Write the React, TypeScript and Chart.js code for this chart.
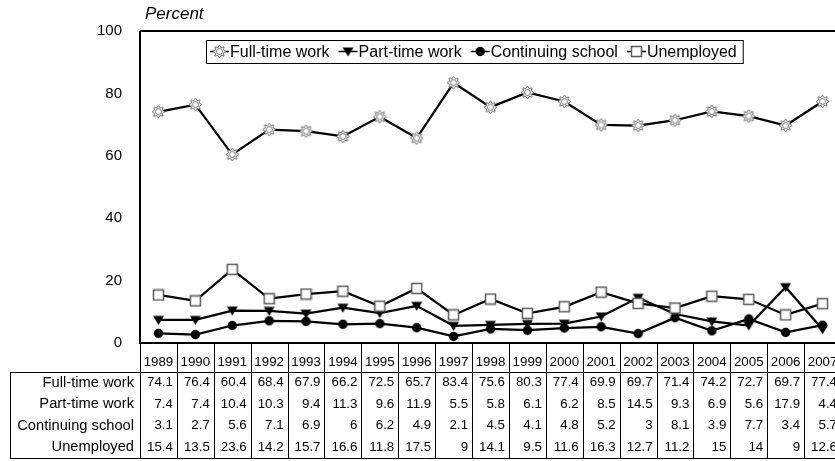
import React, { useEffect, useRef } from 'react';
import { Chart, registerables } from 'chart.js';

Chart.register(...registerables);

const years = ['1989', '1990', '1991', '1992', '1993', '1994', '1995', '1996', '1997', '1998', '1999', '2000', '2001', '2002', '2003', '2004', '2005', '2006', '2007'];
const fullTime = [74.1, 76.4, 60.4, 68.4, 67.9, 66.2, 72.5, 65.7, 83.4, 75.6, 80.3, 77.4, 69.9, 69.7, 71.4, 74.2, 72.7, 69.7, 77.4];
const partTime = [7.4, 7.4, 10.4, 10.3, 9.4, 11.3, 9.6, 11.9, 5.5, 5.8, 6.1, 6.2, 8.5, 14.5, 9.3, 6.9, 5.6, 17.9, 4.4];
const continuing = [3.1, 2.7, 5.6, 7.1, 6.9, 6, 6.2, 4.9, 2.1, 4.5, 4.1, 4.8, 5.2, 3, 8.1, 3.9, 7.7, 3.4, 5.7];
const unemployed = [15.4, 13.5, 23.6, 14.2, 15.7, 16.6, 11.8, 17.5, 9, 14.1, 9.5, 11.6, 16.3, 12.7, 11.2, 15, 14, 9, 12.6];
const seriesLabels = ['Full-time work', 'Part-time work', 'Continuing school', 'Unemployed'];
const yAxisTitle = 'Percent';

function makeCanvas(size: number, draw: (ctx: CanvasRenderingContext2D, c: number) => void) {
  const cv = document.createElement('canvas');
  cv.width = size;
  cv.height = size;
  const ctx = cv.getContext('2d')!;
  draw(ctx, size / 2);
  return cv;
}

function makeMarkers() {
  const sun = makeCanvas(15, (ctx, c) => {
    ctx.strokeStyle = '#707070';
    ctx.lineWidth = 1;
    ctx.fillStyle = '#fff';
    ctx.beginPath();
    const n = 8;
    for (let i = 0; i < n * 2; i++) {
      const a = (i * Math.PI) / n - Math.PI / 2;
      const r = i % 2 === 0 ? 6.5 : 4.2;
      const x = c + r * Math.cos(a);
      const y = c + r * Math.sin(a);
      if (i === 0) ctx.moveTo(x, y);
      else ctx.lineTo(x, y);
    }
    ctx.closePath();
    ctx.fill();
    ctx.stroke();
    ctx.beginPath();
    ctx.arc(c, c, 3, 0, Math.PI * 2);
    ctx.stroke();
  });
  const tri = makeCanvas(13, (ctx, c) => {
    ctx.fillStyle = '#000';
    ctx.beginPath();
    ctx.moveTo(1, 2.5);
    ctx.lineTo(12, 2.5);
    ctx.lineTo(c, 11.5);
    ctx.closePath();
    ctx.fill();
  });
  const dot = makeCanvas(11, (ctx, c) => {
    ctx.fillStyle = '#000';
    ctx.beginPath();
    ctx.arc(c, c, 4.7, 0, Math.PI * 2);
    ctx.fill();
  });
  const sq = makeCanvas(13, (ctx) => {
    ctx.fillStyle = '#fff';
    ctx.strokeStyle = '#5a5a5a';
    ctx.lineWidth = 1.5;
    ctx.fillRect(1.5, 1.5, 10, 10);
    ctx.strokeRect(1.5, 1.5, 10, 10);
  });
  return [sun, tri, dot, sq];
}

export default function App() {
  const ref = useRef<HTMLCanvasElement | null>(null);

  useEffect(() => {
    document.body.style.margin = '0';
    document.body.style.overflow = 'hidden';
    const canvas = ref.current;
    if (!canvas) return;
    const markers = makeMarkers();
    const seriesData = [fullTime, partTime, continuing, unemployed];

    const tablePlugin = {
      id: 'excelTable',
      afterDraw(chart: any) {
        const ctx: CanvasRenderingContext2D = chart.ctx;
        const area = chart.chartArea;
        const xs = chart.scales.x;
        const colW = xs.getPixelForValue(1) - xs.getPixelForValue(0);
        const left = area.left;
        const right = xs.getPixelForValue(years.length - 1) + colW / 2;
        ctx.save();

        // plot borders
        ctx.strokeStyle = '#000';
        ctx.lineWidth = 2;
        ctx.beginPath();
        ctx.moveTo(left, area.top);
        ctx.lineTo(right, area.top);
        ctx.moveTo(left, area.top);
        ctx.lineTo(left, area.bottom);
        ctx.moveTo(left - 1, area.bottom);
        ctx.lineTo(right, area.bottom);
        ctx.stroke();

        // table
        const headerBottom = area.bottom + 29;
        const rowH = 21.5;
        const tableBottom = headerBottom + rowH * 4;
        const labelLeft = 10;
        ctx.lineWidth = 1;
        ctx.strokeStyle = '#000';
        ctx.beginPath();
        for (let i = 0; i <= years.length; i++) {
          const x = Math.round(left + i * colW) + 0.5;
          ctx.moveTo(x, area.bottom);
          ctx.lineTo(x, tableBottom);
        }
        ctx.moveTo(labelLeft + 0.5, headerBottom);
        ctx.lineTo(labelLeft + 0.5, tableBottom);
        ctx.moveTo(labelLeft, Math.round(headerBottom) + 0.5);
        ctx.lineTo(right, Math.round(headerBottom) + 0.5);
        ctx.moveTo(labelLeft, Math.round(tableBottom) + 0.5);
        ctx.lineTo(right, Math.round(tableBottom) + 0.5);
        ctx.stroke();

        ctx.fillStyle = '#000';
        ctx.textBaseline = 'middle';
        ctx.font = '13.3px Arial';
        ctx.textAlign = 'center';
        years.forEach((y, i) => {
          ctx.fillText(y, xs.getPixelForValue(i), area.bottom + 19);
        });
        seriesLabels.forEach((lab, r) => {
          const cy = headerBottom + rowH * (r + 0.5);
          ctx.textAlign = 'right';
          ctx.font = '14.7px Arial';
          ctx.fillText(lab, left - 6, cy);
          ctx.font = '13.3px Arial';
          seriesData[r].forEach((v, i) => {
            ctx.fillText(String(v), xs.getPixelForValue(i) + colW / 2 - 4, cy);
          });
        });

        // y title
        ctx.font = 'italic 17px Arial';
        ctx.textAlign = 'left';
        ctx.textBaseline = 'alphabetic';
        ctx.fillText(yAxisTitle, 145, 19);

        // legend
        ctx.font = '16px Arial';
        const boxL = 206;
        const boxT = 40;
        const boxH = 23;
        const cy = boxT + boxH / 2;
        let x = boxL + 4;
        const items: { x: number; tx: number }[] = [];
        seriesLabels.forEach((lab) => {
          items.push({ x, tx: x + 20 });
          x += 20 + ctx.measureText(lab).width + 9;
        });
        const boxR = x - 9 + 6;
        ctx.fillStyle = '#fff';
        ctx.fillRect(boxL, boxT, boxR - boxL, boxH);
        ctx.strokeStyle = '#000';
        ctx.lineWidth = 1;
        ctx.strokeRect(boxL + 0.5, boxT + 0.5, boxR - boxL, boxH);
        seriesLabels.forEach((lab, i) => {
          const it = items[i];
          ctx.strokeStyle = '#000';
          ctx.lineWidth = 1.5;
          ctx.beginPath();
          ctx.moveTo(it.x, cy);
          ctx.lineTo(it.x + 19, cy);
          ctx.stroke();
          const m = markers[i];
          ctx.drawImage(m, it.x + 9.5 - m.width / 2, cy - m.height / 2);
          ctx.fillStyle = '#000';
          ctx.textAlign = 'left';
          ctx.textBaseline = 'middle';
          ctx.fillText(lab, it.tx, cy + 1);
        });
        ctx.restore();
      },
    };

    const chart = new Chart(canvas, {
      type: 'line',
      data: {
        labels: years,
        datasets: seriesData.map((d, i) => ({
          label: seriesLabels[i],
          data: d,
          borderColor: '#000',
          borderWidth: 2.25,
          pointStyle: markers[i] as any,
          pointRadius: 5,
          order: 4 - i,
          tension: 0,
        })),
      },
      options: {
        responsive: false,
        animation: false,
        events: [],
        layout: { padding: { left: 0, top: 31, right: 9, bottom: 0 } },
        plugins: { legend: { display: false }, tooltip: { enabled: false } },
        scales: {
          x: {
            type: 'category',
            offset: true,
            grid: { display: false },
            border: { display: false },
            ticks: { display: false },
            afterFit: (s: any) => {
              s.height = 118;
            },
          },
          y: {
            min: 0,
            max: 100,
            ticks: { stepSize: 20, color: '#000', font: { family: 'Arial', size: 15 }, padding: 18 },
            grid: { display: false, drawTicks: false },
            border: { display: false },
            afterFit: (s: any) => {
              s.width = 140;
            },
          },
        },
      },
      plugins: [tablePlugin],
    });
    return () => chart.destroy();
  }, []);

  return (
    <div style={{ position: 'relative', width: 835, height: 461, overflow: 'hidden', background: '#fff' }}>
      <canvas ref={ref} width={850} height={461} style={{ display: 'block', width: 850, height: 461 }} />
    </div>
  );
}
